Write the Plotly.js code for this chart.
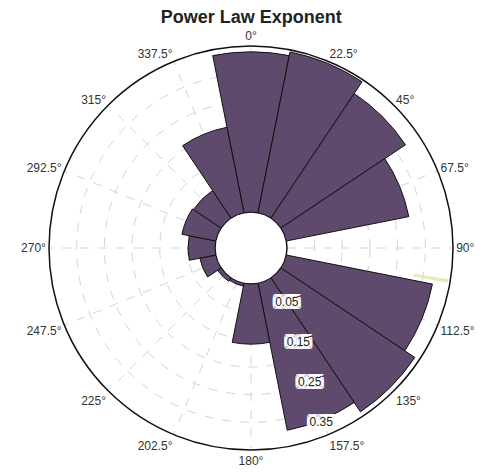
<!DOCTYPE html>
<html>
<head>
<meta charset="utf-8">
<script src="https://cdn.plot.ly/plotly-3.0.1.min.js"></script>
<style>
html,body{margin:0;padding:0;background:#fff;}
#chart{width:489px;height:472px;}
</style>
</head>
<body>
<div id="chart"></div>
<script>
// Direction sectors (degrees, compass) and bar lengths
const directions = [0, 22.5, 45, 67.5, 90, 112.5, 135, 157.5, 180, 202.5, 225, 247.5, 270, 292.5, 315, 337.5];
const exponentValues = [0.386, 0.395, 0.361, 0.301, 0, 0.359, 0.388, 0.361, 0.145, 0.007, 0.01, 0.039, 0.065, 0.083, 0.08, 0.21];
// faint secondary sliver (light green)
const sliverTheta = [99.5];
const sliverBase = [0.31];
const sliverValues = [0.085];
// radial axis
const radialTickVals = [0.05, 0.15, 0.25, 0.35];
const radialTickText = ['0.05', '0.15', '0.25', '0.35'];
const gridCircleVals = [0.0667, 0.1333, 0.2, 0.2667, 0.3333];
const angularTickVals = directions;
const angularTickText = directions.map(d => d + '°');

const domainX = [0.1002, 0.9264];
const domainY = [0.0466, 0.9025];
const rMax = 0.4;
const holeFrac = 0.178;
const radialAngle = -74;

const traces = [
  {
    // invisible anchor trace so the grid subplot is drawn
    type: 'scatterpolar',
    subplot: 'polar',
    r: [0], theta: [0],
    mode: 'markers',
    marker: {opacity: 0, size: 1},
    hoverinfo: 'skip',
    showlegend: false
  },
  {
    type: 'barpolar',
    subplot: 'polar2',
    theta: directions,
    r: exponentValues,
    width: directions.map(() => 22.5),
    marker: {color: '#5f4a6d', line: {color: '#111', width: 1}},
    opacity: 1,
    hoverinfo: 'skip',
    showlegend: false
  },
  {
    type: 'barpolar',
    subplot: 'polar2',
    theta: sliverTheta,
    r: sliverValues,
    base: sliverBase,
    width: [1],
    marker: {color: '#d4ebb0', line: {width: 0}},
    opacity: 0.8,
    hoverinfo: 'skip',
    showlegend: false
  }
];

const fontFam = 'Arial, "Liberation Sans", sans-serif';
const whiteBox = ['3px 0 0 #fff','-3px 0 0 #fff','0 3px 0 #fff','0 -3px 0 #fff','3px 3px 0 #fff','-3px -3px 0 #fff','3px -3px 0 #fff','-3px 3px 0 #fff','1px 0 0 #fff','-1px 0 0 #fff','2px 0 0 #fff','-2px 0 0 #fff','0 2px 0 #fff','0 -2px 0 #fff','2px 2px 0 #fff','-2px -2px 0 #fff','2px -2px 0 #fff','-2px 2px 0 #fff'].join(',');

const layout = {
  width: 489, height: 472,
  margin: {l: 0, r: 0, t: 0, b: 0},
  paper_bgcolor: '#fff',
  showlegend: false,
  title: {
    text: '<b>Power Law Exponent</b>',
    x: 0.514, xanchor: 'center',
    y: 0.964, yanchor: 'middle',
    font: {family: fontFam, size: 18, color: '#222'}
  },
  polar: {
    domain: {x: domainX, y: domainY},
    hole: holeFrac,
    bgcolor: '#fff',
    angularaxis: {
      rotation: 90, direction: 'clockwise',
      tickmode: 'array', tickvals: angularTickVals, ticktext: angularTickText,
      ticks: '', showline: true, linecolor: '#111', linewidth: 1.5,
      showgrid: true, gridcolor: '#d4d4d4', griddash: 'dash', gridwidth: 1,
      tickfont: {family: fontFam, size: 12, color: '#333'}
    },
    radialaxis: {
      range: [0, rMax],
      tickmode: 'array', tickvals: gridCircleVals,
      showticklabels: false, ticks: '', showline: false,
      showgrid: true, gridcolor: '#d4d4d4', griddash: 'dash', gridwidth: 1
    }
  },
  polar2: {
    domain: {x: domainX, y: domainY},
    hole: holeFrac,
    bgcolor: 'rgba(0,0,0,0)',
    angularaxis: {
      rotation: 90, direction: 'clockwise',
      showticklabels: false, ticks: '', showline: false, showgrid: false
    },
    radialaxis: {
      range: [0, rMax], angle: radialAngle, side: 'counterclockwise',
      tickmode: 'array', tickvals: radialTickVals, ticktext: radialTickText,
      tickangle: radialAngle,
      showticklabels: true, ticks: '', showline: false, showgrid: false,
      tickfont: {family: fontFam, size: 12, color: '#222', shadow: whiteBox},
      layer: 'above traces'
    }
  }
};

Plotly.newPlot('chart', traces, layout, {staticPlot: true, displayModeBar: false});
</script>
</body>
</html>
